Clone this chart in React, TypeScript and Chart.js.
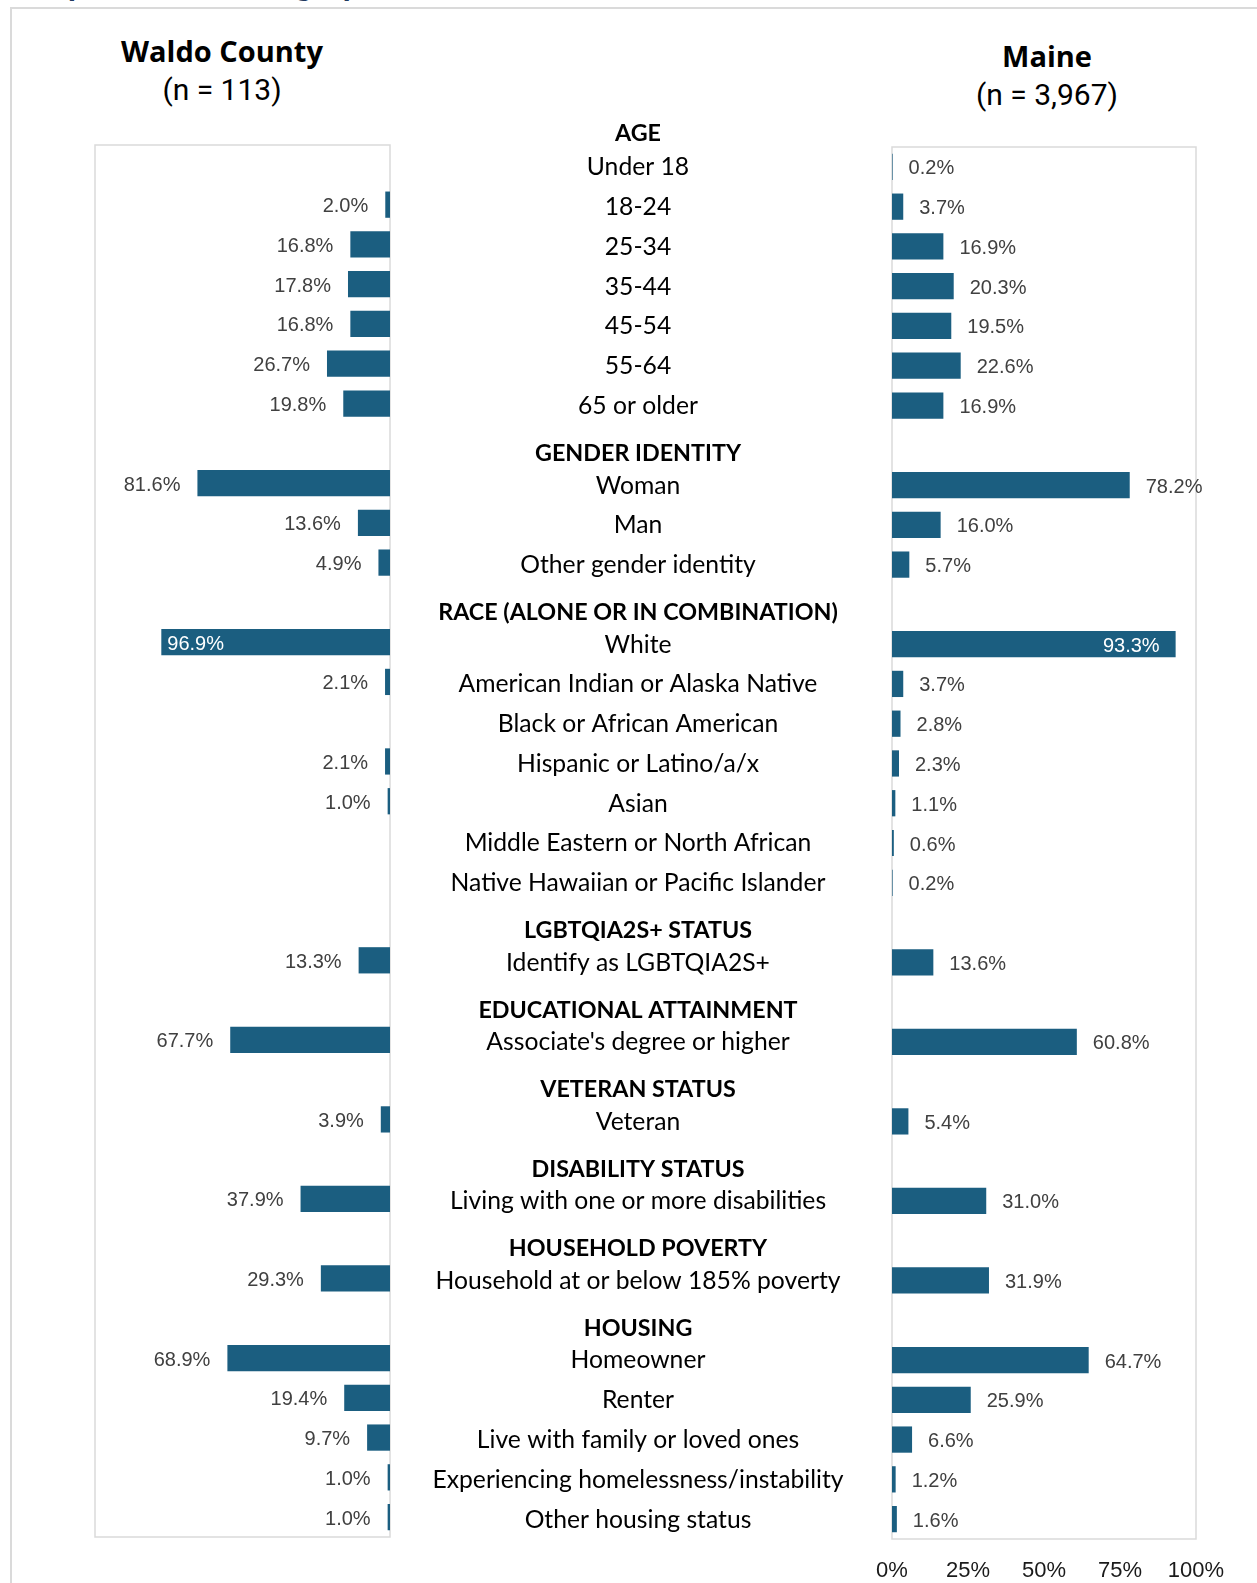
import React, { useEffect, useRef } from "react";
import { Chart, registerables } from "chart.js";

Chart.register(...registerables);

// ---------- data ----------
const topHeader = "AGE";
const categories = [
  "Under 18", "18-24", "25-34", "35-44", "45-54", "55-64", "65 or older",
  "GENDER IDENTITY", "Woman", "Man", "Other gender identity",
  "RACE (ALONE OR IN COMBINATION)", "White", "American Indian or Alaska Native",
  "Black or African American", "Hispanic or Latino/a/x", "Asian",
  "Middle Eastern or North African", "Native Hawaiian or Pacific Islander",
  "LGBTQIA2S+ STATUS", "Identify as LGBTQIA2S+",
  "EDUCATIONAL ATTAINMENT", "Associate's degree or higher",
  "VETERAN STATUS", "Veteran",
  "DISABILITY STATUS", "Living with one or more disabilities",
  "HOUSEHOLD POVERTY", "Household at or below 185% poverty",
  "HOUSING", "Homeowner", "Renter", "Live with family or loved ones",
  "Experiencing homelessness/instability", "Other housing status",
];
const headerLabels = [
  "GENDER IDENTITY", "RACE (ALONE OR IN COMBINATION)", "LGBTQIA2S+ STATUS",
  "EDUCATIONAL ATTAINMENT", "VETERAN STATUS", "DISABILITY STATUS",
  "HOUSEHOLD POVERTY", "HOUSING",
];
const waldoValues: (number | null)[] = [
  null, 2.0, 16.8, 17.8, 16.8, 26.7, 19.8,
  null, 81.6, 13.6, 4.9,
  null, 96.9, 2.1, null, 2.1, 1.0, null, null,
  null, 13.3,
  null, 67.7,
  null, 3.9,
  null, 37.9,
  null, 29.3,
  null, 68.9, 19.4, 9.7, 1.0, 1.0,
];
const maineValues: (number | null)[] = [
  0.2, 3.7, 16.9, 20.3, 19.5, 22.6, 16.9,
  null, 78.2, 16.0, 5.7,
  null, 93.3, 3.7, 2.8, 2.3, 1.1, 0.6, 0.2,
  null, 13.6,
  null, 60.8,
  null, 5.4,
  null, 31.0,
  null, 31.9,
  null, 64.7, 25.9, 6.6, 1.2, 1.6,
];
const maineTicks = [0, 25, 50, 75, 100];
const waldoAxisMax = 125;
const maineAxisMax = 100;
const waldoTitle = "Waldo County";
const waldoN = "(n = 113)";
const maineTitle = "Maine";
const maineN = "(n = 3,967)";
const pageTitle = "Respondent Demographics";

// ---------- style ----------
const BAR = "#1b5e80";
const BOX = "#dadada";
const LABEL_FONT = "'Liberation Sans', Arial, sans-serif";
const CAT_FONT = "Lato, 'Noto Sans', sans-serif";
const TITLE_BOLD_FONT = "'Open Sans', 'Noto Sans', sans-serif";
const TITLE_FONT = "Roboto, 'Noto Sans', sans-serif";

const boxPlugin = {
  id: "boxBorder",
  beforeDatasetsDraw(chart: any) {
    const { ctx, chartArea } = chart;
    ctx.save();
    ctx.strokeStyle = BOX;
    ctx.lineWidth = 1.5;
    ctx.strokeRect(chartArea.left, chartArea.top, chartArea.right - chartArea.left, chartArea.bottom - chartArea.top);
    ctx.restore();
  },
};

function valueLabelPlugin(side: "left" | "right", values: (number | null)[]) {
  return {
    id: "valueLabels_" + side,
    afterDatasetsDraw(chart: any) {
      const { ctx } = chart;
      const meta = chart.getDatasetMeta(0);
      ctx.save();
      ctx.font = `20px ${LABEL_FONT}`;
      ctx.textBaseline = "middle";
      meta.data.forEach((bar: any, i: number) => {
        const v = values[i];
        if (v == null) return;
        const { x, y } = bar.getProps(["x", "y"], true);
        const txt = v.toFixed(1) + "%";
        const inside = v > 90;
        const ty = y + 2;
        if (side === "left") {
          if (inside) {
            ctx.fillStyle = "#ffffff";
            ctx.textAlign = "left";
            ctx.fillText(txt, x + 6, ty);
          } else {
            ctx.fillStyle = "#404040";
            ctx.textAlign = "right";
            ctx.fillText(txt, x - 17, ty);
          }
        } else {
          if (inside) {
            ctx.fillStyle = "#ffffff";
            ctx.textAlign = "right";
            ctx.fillText(txt, x - 16, ty);
          } else {
            ctx.fillStyle = "#404040";
            ctx.textAlign = "left";
            ctx.fillText(txt, x + 16, ty);
          }
        }
      });
      ctx.restore();
    },
  };
}

const categoryLabelPlugin = {
  id: "categoryLabels",
  afterDraw(chart: any) {
    const { ctx, chartArea } = chart;
    const yScale = chart.scales.y;
    const cx = chartArea.left - 254;
    const y0 = yScale.getPixelForValue(0);
    const y1 = yScale.getPixelForValue(1);
    const slot = y1 - y0;
    ctx.save();
    ctx.fillStyle = "#000000";
    ctx.textAlign = "center";
    ctx.textBaseline = "middle";
    const drawHeader = (t: string, y: number) => {
      ctx.font = `bold 23.3px ${CAT_FONT}`;
      ctx.fillText(t, cx, y + 8);
    };
    drawHeader(topHeader, y0 - slot - 2);
    categories.forEach((c, i) => {
      const y = yScale.getPixelForValue(i);
      if (headerLabels.includes(c)) {
        drawHeader(c, y);
      } else {
        ctx.font = `24.7px ${CAT_FONT}`;
        ctx.fillText(c, cx, y + 0.5);
      }
    });
    ctx.restore();
  },
};

export default function App() {
  const leftRef = useRef<HTMLCanvasElement | null>(null);
  const rightRef = useRef<HTMLCanvasElement | null>(null);

  useEffect(() => {
    const left = new Chart(leftRef.current as HTMLCanvasElement, {
      type: "bar",
      data: {
        labels: categories,
        datasets: [
          {
            data: waldoValues as any,
            backgroundColor: BAR,
            barPercentage: 0.66,
            categoryPercentage: 1,
          },
        ],
      },
      options: {
        indexAxis: "y",
        animation: false,
        responsive: false,
        maintainAspectRatio: false,
        layout: { padding: { left: 15, right: 2, top: 45, bottom: 46 } },
        plugins: { legend: { display: false }, tooltip: { enabled: false } },
        scales: {
          x: { type: "linear", min: 0, max: waldoAxisMax, reverse: true, display: false },
          y: { type: "category", display: false },
        },
      },
      plugins: [boxPlugin, valueLabelPlugin("left", waldoValues)],
    } as any);

    const right = new Chart(rightRef.current as HTMLCanvasElement, {
      type: "bar",
      data: {
        labels: categories,
        datasets: [
          {
            data: maineValues as any,
            backgroundColor: BAR,
            barPercentage: 0.66,
            categoryPercentage: 1,
          },
        ],
      },
      options: {
        indexAxis: "y",
        animation: false,
        responsive: false,
        maintainAspectRatio: false,
        layout: { padding: { left: 502, right: 61, top: 47, bottom: 0 } },
        plugins: { legend: { display: false }, tooltip: { enabled: false } },
        scales: {
          x: {
            type: "linear",
            position: "bottom",
            min: 0,
            max: maineAxisMax,
            grid: { display: false },
            border: { display: false },
            afterBuildTicks: (s: any) => {
              s.ticks = maineTicks.map((v) => ({ value: v }));
            },
            afterFit: (s: any) => {
              s.height = 44;
            },
            ticks: {
              autoSkip: false,
              maxRotation: 0,
              padding: 11,
              color: "#1a1a1a",
              font: { family: LABEL_FONT, size: 22 },
              callback: (v: any) => v + "%",
            },
          },
          y: { type: "category", display: false },
        },
      },
      plugins: [boxPlugin, valueLabelPlugin("right", maineValues), categoryLabelPlugin],
    } as any);

    return () => {
      left.destroy();
      right.destroy();
    };
  }, []);

  const titleStyle = (x: number, y: number, bold: boolean): React.CSSProperties => ({
    position: "absolute",
    left: x,
    top: y,
    transform: "translate(-50%, -50%)",
    fontFamily: bold ? TITLE_BOLD_FONT : TITLE_FONT,
    fontWeight: bold ? 700 : 400,
    fontSize: bold ? 29 : 30,
    lineHeight: "36px",
    color: "#000",
    whiteSpace: "nowrap",
  });

  return (
    <div
      style={{
        position: "absolute",
        left: 0,
        top: 0,
        width: 1257,
        height: 1583,
        background: "#ffffff",
        overflow: "hidden",
      }}
    >
      <div
        style={{
          position: "absolute",
          left: 14,
          top: -37.6,
          fontFamily: CAT_FONT,
          fontWeight: 700,
          fontSize: 34,
          lineHeight: "40.8px",
          color: "#1f3a5f",
          whiteSpace: "nowrap",
        }}
      >
        {pageTitle}
      </div>
      <div
        style={{
          position: "absolute",
          left: 10,
          top: 7,
          width: 1400,
          height: 1700,
          borderLeft: `2px solid ${BOX}`,
          borderTop: `2px solid ${BOX}`,
        }}
      />
      <div style={titleStyle(222, 51, true)}>{waldoTitle}</div>
      <div style={titleStyle(222, 90, false)}>{waldoN}</div>
      <div style={titleStyle(1047, 56, true)}>{maineTitle}</div>
      <div style={titleStyle(1047, 95, false)}>{maineN}</div>
      <canvas
        ref={leftRef}
        width={312}
        height={1483}
        style={{ position: "absolute", left: 80, top: 100, width: 312, height: 1483 }}
      />
      <canvas
        ref={rightRef}
        width={867}
        height={1483}
        style={{ position: "absolute", left: 390, top: 100, width: 867, height: 1483 }}
      />
    </div>
  );
}
